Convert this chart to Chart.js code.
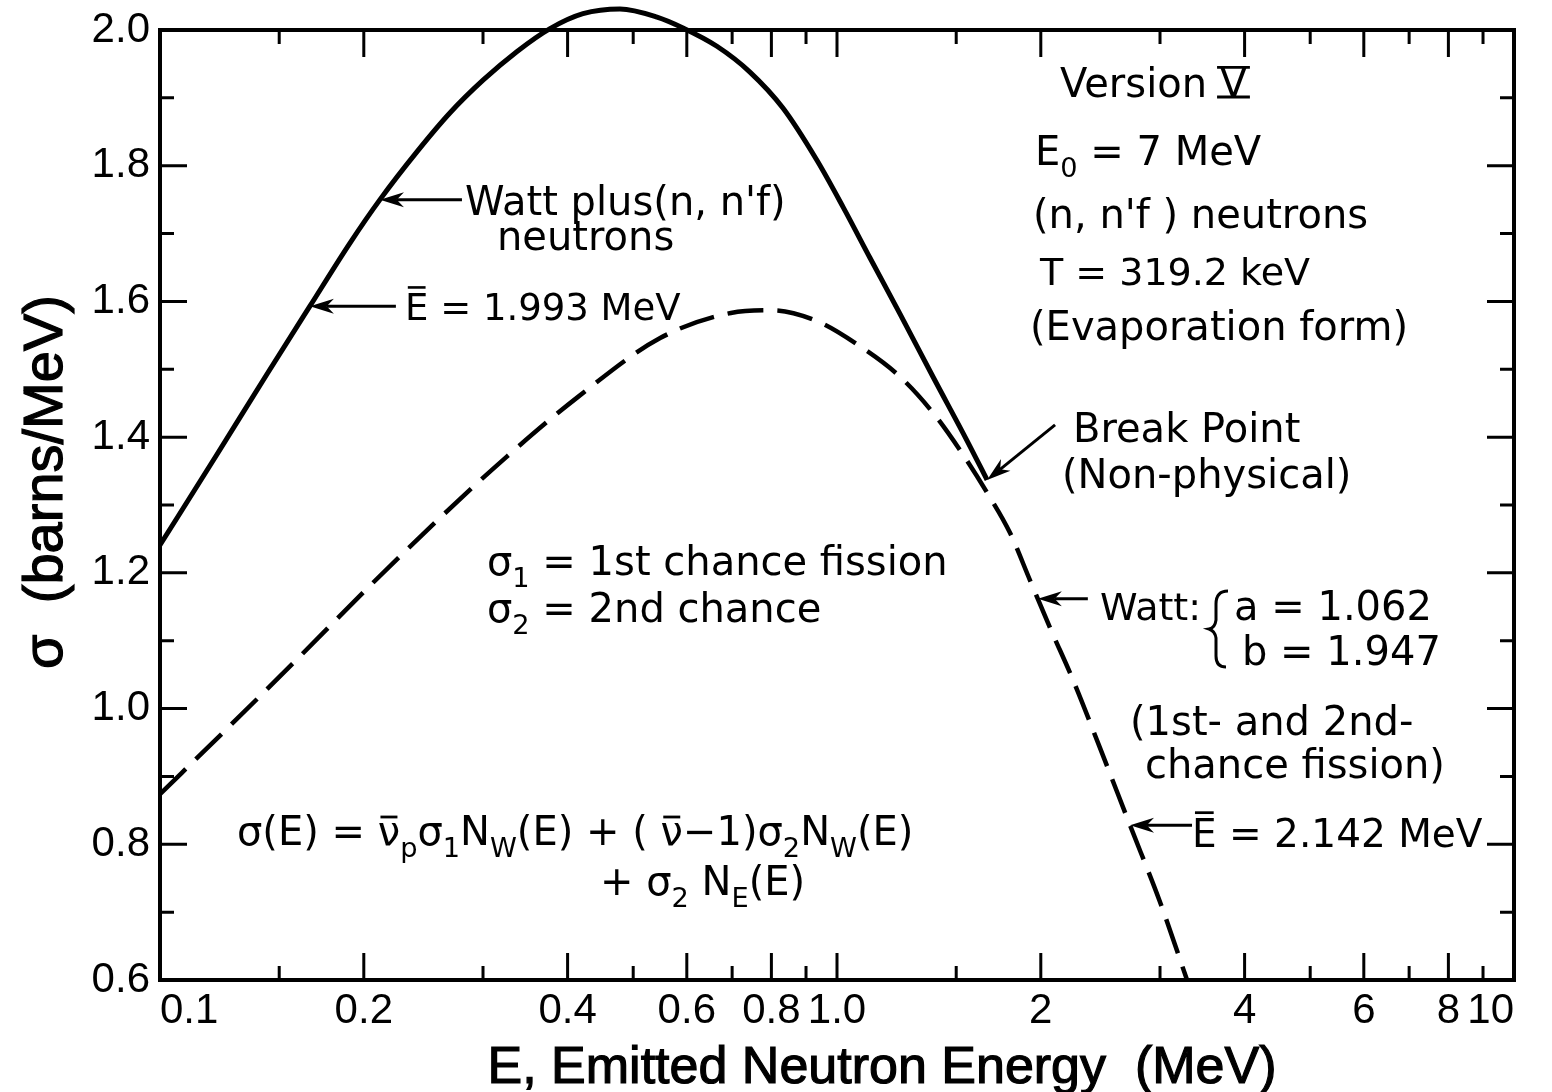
<!DOCTYPE html>
<html>
<head>
<meta charset="utf-8">
<script src="https://cdn.jsdelivr.net/npm/chart.js@4.4.1/dist/chart.umd.min.js"></script>
<style>
  html, body { margin: 0; padding: 0; background: #fff; }
  canvas { display: block; }
</style>
</head>
<body>
<canvas id="spectrum" width="1552" height="1092"></canvas>
<script>
// Emitted neutron energy E (MeV) and spectrum sigma (barns/MeV)

// Watt plus (n, n'f) neutrons (solid), ends at the break point
const energyWattPlus = [0.1, 0.1213, 0.1437, 0.1665, 0.1908, 0.2113, 0.2394, 0.2682, 0.300, 0.3365,
  0.3768, 0.4215, 0.478, 0.5422, 0.5923, 0.6647, 0.7437, 0.832, 0.934, 1.021, 1.119, 1.24, 1.386, 1.556, 1.666];
const sigmaWattPlus = [1.241, 1.374, 1.492, 1.593, 1.686, 1.750, 1.820, 1.878, 1.926, 1.968,
  2.002, 2.024, 2.031, 2.019, 2.003, 1.976, 1.938, 1.885, 1.808, 1.739, 1.664, 1.581, 1.489, 1.395, 1.337];

// Watt, 1st- and 2nd-chance fission (dashed)
const energyWatt = [0.1, 0.1246, 0.1584, 0.2014, 0.256, 0.325, 0.414, 0.548, 0.697, 0.803, 0.934, 1.081,
  1.239, 1.386, 1.519, 1.664, 1.801, 1.928, 2.064, 2.232, 2.446, 2.709, 3.0, 3.289];
const sigmaWatt = [0.874, 0.967, 1.070, 1.175, 1.276, 1.371, 1.459, 1.546, 1.583, 1.587, 1.571, 1.534,
  1.489, 1.436, 1.381, 1.319, 1.259, 1.189, 1.119, 1.042, 0.942, 0.828, 0.715, 0.600];

// Axis ticks
const xTicks = [0.1, 0.15, 0.2, 0.3, 0.4, 0.5, 0.6, 0.7, 0.8, 0.9, 1, 1.5, 2, 3, 4, 5, 6, 7, 8, 9, 10];
const xTickLabels = ['0.1', '', '0.2', '', '0.4', '', '0.6', '', '0.8', '', '1.0', '', '2', '', '4', '', '6', '', '8', '', '10'];
const yTickLabels = ['0.6', '0.8', '1.0', '1.2', '1.4', '1.6', '1.8', '2.0'];

const INK = '#000';
const NOTE_FAMILY = '"DejaVu Sans", "Liberation Sans", sans-serif';
const AXIS_FAMILY = '"Liberation Sans", Arial, sans-serif';
const fontPx = px => px + 'px ' + NOTE_FAMILY;

// Draws a run of text pieces: plain strings, subscripts, overbars, framed numerals
function drawParts(ctx, x, y, parts, size) {
  let cx = x;
  for (const p of parts) {
    const seg = typeof p === 'string' ? { t: p } : p;
    const fs = seg.sub ? size * 0.68 : size;
    const by = seg.sub ? y + size * 0.3 : y;
    ctx.font = fontPx(fs);
    ctx.fillText(seg.t, cx, by);
    const w = ctx.measureText(seg.t).width;
    ctx.lineWidth = Math.max(2.5, size * 0.07);
    if (seg.bar) {
      const h = seg.bar === 'x' ? fs * 0.7 : fs * 0.88;
      ctx.beginPath();
      ctx.moveTo(cx + w * 0.12, by - h);
      ctx.lineTo(cx + w * 0.88, by - h);
      ctx.stroke();
    }
    if (seg.frame) {
      ctx.beginPath();
      ctx.moveTo(cx - w * 0.1, by - fs * 0.74);
      ctx.lineTo(cx + w * 1.1, by - fs * 0.74);
      ctx.moveTo(cx - w * 0.1, by);
      ctx.lineTo(cx + w * 1.1, by);
      ctx.stroke();
    }
    cx += w;
  }
}

function arrow(ctx, x1, y1, x2, y2) {
  const a = Math.atan2(y2 - y1, x2 - x1);
  const L = 24, W = 7.5;
  const c = Math.cos(a), s = Math.sin(a);
  ctx.lineWidth = 3;
  ctx.beginPath();
  ctx.moveTo(x1, y1);
  ctx.lineTo(x2 - c * L * 0.7, y2 - s * L * 0.7);
  ctx.stroke();
  const bx = x2 - c * L, by = y2 - s * L;
  ctx.beginPath();
  ctx.moveTo(x2, y2);
  ctx.lineTo(bx - s * W, by + c * W);
  ctx.lineTo(x2 - c * L * 0.7, y2 - s * L * 0.7);
  ctx.lineTo(bx + s * W, by - c * W);
  ctx.closePath();
  ctx.fill();
}

// Text notes (canvas pixels, left edge and baseline)
const notes = [
  { x: 465, y: 215, parts: ["Watt plus(n, n'f)"] },
  { x: 497, y: 250, parts: ['neutrons'] },
  { x: 405, y: 320, size: 37, parts: [{ t: 'E', bar: 'cap' }, ' = 1.993 MeV'] },
  { x: 1060, y: 97, parts: ['Version ', { t: 'V', frame: true }] },
  { x: 1035, y: 165, parts: ['E', { t: '0', sub: true }, ' = 7 MeV'] },
  { x: 1033, y: 228, parts: ["(n, n'f ) neutrons"] },
  { x: 1040, y: 285, size: 38, parts: ['T = 319.2 keV'] },
  { x: 1030, y: 340, parts: ['(Evaporation form)'] },
  { x: 1073, y: 442, parts: ['Break Point'] },
  { x: 1062, y: 488, parts: ['(Non-physical)'] },
  { x: 487, y: 575, parts: ['σ', { t: '1', sub: true }, ' = 1st chance fission'] },
  { x: 487, y: 622, parts: ['σ', { t: '2', sub: true }, ' = 2nd chance'] },
  { x: 1100, y: 620, size: 38, parts: ['Watt:'] },
  { x: 1234, y: 620, parts: ['a = 1.062'] },
  { x: 1242, y: 665, parts: ['b = 1.947'] },
  { x: 1130, y: 735, parts: ['(1st- and 2nd-'] },
  { x: 1145, y: 778, parts: ['chance fission)'] },
  { x: 1192, y: 847, size: 39, parts: [{ t: 'E', bar: 'cap' }, ' = 2.142 MeV'] },
  { x: 237, y: 845, parts: ['σ(E) = ', { t: 'ν', bar: 'x' }, { t: 'p', sub: true }, 'σ', { t: '1', sub: true },
      'N', { t: 'W', sub: true }, '(E) + ( ', { t: 'ν', bar: 'x' }, '−1)', 'σ', { t: '2', sub: true },
      'N', { t: 'W', sub: true }, '(E)'] },
  { x: 600, y: 895, parts: ['+ σ', { t: '2', sub: true }, ' N', { t: 'E', sub: true }, '(E)'] }
];

// Arrow tips on the curves [E, sigma] with tail offsets in pixels
const pointers = [
  { tip: [0.2113, 1.750], dx: 82, dy: 0 },
  { tip: [0.1665, 1.593], dx: 86, dy: 0 },
  { tip: [1.666, 1.337], dx: 68, dy: -55 },
  { tip: [1.98, 1.162], dx: 50, dy: 0 },
  { tip: [2.709, 0.828], dx: 62, dy: 0 }
];

const paperPlugin = {
  id: 'paper',
  beforeDraw(chart) {
    const { ctx, width, height } = chart;
    ctx.save();
    ctx.fillStyle = '#fff';
    ctx.fillRect(0, 0, width, height);
    ctx.restore();
  }
};

// Plot frame with inward tick marks on all four sides
const framePlugin = {
  id: 'frame',
  afterDatasetsDraw(chart) {
    const { ctx, chartArea: a, scales: { x, y } } = chart;
    ctx.save();
    ctx.strokeStyle = INK;
    ctx.lineCap = 'butt';
    ctx.lineWidth = 3;
    const MAJOR = 27, MINOR = 14;
    x.ticks.forEach((t, i) => {
      if (i === 0 || i === x.ticks.length - 1) return;
      const px = x.getPixelForValue(t.value);
      const len = t.label ? MAJOR : MINOR;
      ctx.beginPath();
      ctx.moveTo(px, a.bottom); ctx.lineTo(px, a.bottom - len);
      ctx.moveTo(px, a.top); ctx.lineTo(px, a.top + len);
      ctx.stroke();
    });
    y.ticks.forEach((t, i) => {
      if (i === 0 || i === y.ticks.length - 1) return;
      const py = y.getPixelForValue(t.value);
      const len = t.label ? MAJOR : MINOR;
      ctx.beginPath();
      ctx.moveTo(a.left, py); ctx.lineTo(a.left + len, py);
      ctx.moveTo(a.right, py); ctx.lineTo(a.right - len, py);
      ctx.stroke();
    });
    ctx.lineWidth = 4;
    ctx.strokeRect(a.left, a.top, a.right - a.left, a.bottom - a.top);
    ctx.restore();
  }
};

// Axis titles, notes, arrows and the brace
const notesPlugin = {
  id: 'notes',
  afterDraw(chart) {
    const { ctx, scales: { x, y } } = chart;
    ctx.save();
    ctx.fillStyle = INK;
    ctx.strokeStyle = INK;
    ctx.textBaseline = 'alphabetic';

    ctx.textAlign = 'center';
    ctx.lineWidth = 1.2;
    ctx.font = '52px ' + AXIS_FAMILY;
    const xTitle = 'E, Emitted Neutron Energy  (MeV)';
    ctx.fillText(xTitle, 882, 1083);
    ctx.strokeText(xTitle, 882, 1083);
    ctx.save();
    ctx.translate(62, 482);
    ctx.rotate(-Math.PI / 2);
    ctx.font = '56px ' + AXIS_FAMILY;
    const yTitle = 'σ  (barns/MeV)';
    ctx.fillText(yTitle, 0, 0);
    ctx.strokeText(yTitle, 0, 0);
    ctx.restore();

    ctx.textAlign = 'left';
    notes.forEach(n => drawParts(ctx, n.x, n.y, n.parts, n.size || 40));

    pointers.forEach(p => {
      const tx = x.getPixelForValue(p.tip[0]);
      const ty = y.getPixelForValue(p.tip[1]);
      arrow(ctx, tx + p.dx, ty + p.dy, tx, ty);
    });

    // brace grouping the Watt parameters
    ctx.lineWidth = 3;
    ctx.beginPath();
    ctx.moveTo(1228, 591);
    ctx.quadraticCurveTo(1216, 591, 1216, 604);
    ctx.lineTo(1216, 620);
    ctx.quadraticCurveTo(1215, 628, 1209, 629);
    ctx.quadraticCurveTo(1215, 631, 1216, 638);
    ctx.lineTo(1216, 656);
    ctx.quadraticCurveTo(1216, 667, 1226, 667);
    ctx.stroke();
    ctx.restore();
  }
};

const tickFont = { family: AXIS_FAMILY, size: 42 };

new Chart(document.getElementById('spectrum'), {
  type: 'line',
  data: {
    datasets: [
      {
        label: "Watt plus (n, n'f) neutrons",
        data: energyWattPlus.map((e, i) => ({ x: e, y: sigmaWattPlus[i] })),
        borderColor: INK,
        borderWidth: 5,
        pointRadius: 0,
        cubicInterpolationMode: 'monotone',
        fill: false,
        clip: false
      },
      {
        label: 'Watt (1st- and 2nd-chance fission)',
        data: energyWatt.map((e, i) => ({ x: e, y: sigmaWatt[i] })),
        borderColor: INK,
        borderWidth: 4.5,
        borderDash: [36, 14],
        pointRadius: 0,
        cubicInterpolationMode: 'monotone',
        fill: false,
        clip: false
      }
    ]
  },
  options: {
    responsive: false,
    animation: false,
    devicePixelRatio: 1,
    layout: { padding: { top: 30, right: 38, left: 0, bottom: 0 } },
    plugins: { legend: { display: false }, tooltip: { enabled: false } },
    scales: {
      x: {
        type: 'logarithmic',
        min: 0.1,
        max: 10,
        grid: { display: false, drawTicks: false },
        border: { display: false },
        afterBuildTicks: s => { s.ticks = xTicks.map(v => ({ value: v })); },
        afterFit: s => { s.height = 112; s.paddingLeft = 0; s.paddingRight = 0; },
        ticks: {
          autoSkip: false,
          maxRotation: 0,
          minRotation: 0,
          align: 'inner',
          padding: 6,
          color: INK,
          font: tickFont,
          callback: v => { const i = xTicks.indexOf(v); return i >= 0 ? xTickLabels[i] : ''; }
        }
      },
      y: {
        type: 'linear',
        min: 0.6,
        max: 2.0,
        grid: { display: false, drawTicks: false },
        border: { display: false },
        afterFit: s => { s.width = 160; s.paddingTop = 0; s.paddingBottom = 0; },
        ticks: {
          stepSize: 0.1,
          autoSkip: false,
          padding: 10,
          color: INK,
          font: tickFont,
          callback: v => { const t = Number(v).toFixed(1); return yTickLabels.includes(t) ? t : ''; }
        }
      }
    }
  },
  plugins: [paperPlugin, framePlugin, notesPlugin]
});
</script>
</body>
</html>
